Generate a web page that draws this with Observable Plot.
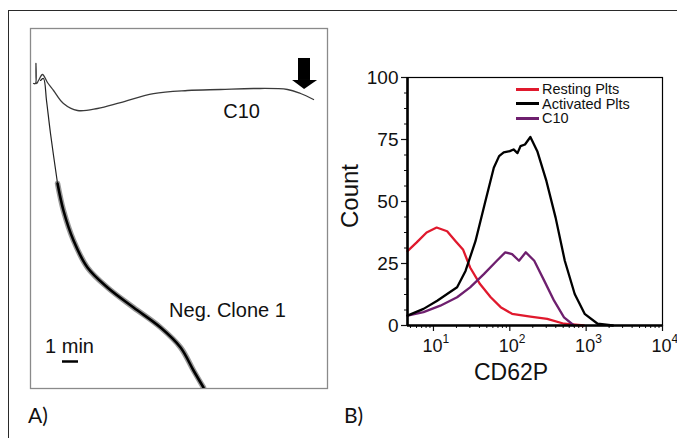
<!DOCTYPE html>
<html><head><meta charset="utf-8">
<script src="https://cdn.jsdelivr.net/npm/d3@7"></script>
<script src="https://cdn.jsdelivr.net/npm/@observablehq/plot@0.6"></script>
<style>
body{margin:0;background:#fff}
#wrap{position:relative;width:677px;height:438px;overflow:hidden;background:#fff;font-family:"Liberation Sans",Arial,sans-serif}
.abs{position:absolute}
.lbl{font-family:Lato,"Open Sans",sans-serif;font-size:21px;color:#111}
.leg{position:absolute;left:516px;top:82px;font-size:14.5px;line-height:14.5px;color:#111}
.leg div{display:flex;align-items:center;white-space:nowrap;height:14.5px}
.leg span.bar{display:inline-block;width:23px;height:3px;margin-right:3px}
</style></head>
<body>
<div id="wrap">
  <div class="abs" style="left:8px;top:10px;width:720px;height:520px;border:1.5px solid #2a2a2a"></div>
  <div id="a" class="abs" style="left:20px;top:18px"></div>
  <div id="b" class="abs" style="left:335px;top:60px"></div>
  <div id="leg" class="leg"></div>
  <div class="abs" style="left:350px;top:196px;width:0;height:0"><div style="position:absolute;transform:translate(-50%,-50%) rotate(-90deg);font-size:24px;white-space:nowrap;color:#111">Count</div></div>
  <div class="abs" style="left:511px;top:372px;width:0;height:0"><div style="position:absolute;transform:translate(-50%,-50%);font-size:23px;white-space:nowrap;color:#111">CD62P</div></div>
  <div class="abs lbl" style="left:28px;top:402px">A)</div>
  <div class="abs lbl" style="left:344px;top:402px">B)</div>
</div>
<script>
// ---- Panel A: aggregation traces (time in min, signal in arbitrary %)
const c10T = [0.19,0.31,0.34,0.38,0.5,0.75,1.06,1.44,2.06,2.94,4.19,5.63,7.69,9.81,11.88,13.94,16.06,16.88,17.69];
const c10V = [-0.28,-0.28,5.28,-0.28,0.56,2.22,0,-2.22,-5.83,-7.78,-7.22,-5.56,-3.06,-2.22,-1.94,-1.67,-1.94,-3.06,-4.72];
const negThinT = [0.63,0.81,1.0,1.25,1.69];
const negThinV = [0.56,1.11,-5,-14.17,-28.06];
const negT = [1.69,2.06,2.69,3.56,4.81,6.44,8.13,9.38,10.19,10.81];
const negV = [-28.06,-35.56,-43.89,-51.39,-56.94,-62.5,-68.06,-73.61,-80,-84.72];
const traceLabels = ["C10","Neg. Clone 1"];
const scaleBarLabel = "1 min";

// ---- Panel B: CD62P histograms
const restX = [4.57,6.03,8.13,11,15.1,19.5,24.5,30.2,40.7,56.2,75.9,107,186,309,513,933];
const restY = [30,33.5,37.5,39.5,38,34,30.5,23.4,16.7,11.4,7.4,4.7,3.6,2.7,0.7,0];
const actX = [4.57,7.41,11.2,15.1,20.4,26.3,35.5,46.8,61.7,72.4,83.2,100,112,126,138,158,186,229,302,398,525,708,955,1413,2239];
const actY = [4,6.7,10,12.7,15.4,22,34,48.9,63.6,68.3,69.8,70.3,71,69.5,72.3,73,76,70.3,58.2,43.5,26.1,12.7,4.7,0.7,0];
const c10X = [4.57,7.41,12.3,20.4,30.2,45.7,67.6,87.1,107,132,162,209,282,380,513,692];
const c10Y = [4,5.4,8,11.4,15.4,20.7,26.1,29.5,28.8,26.1,29.5,26.1,18.1,10,3.3,0];
const seriesNames = ["Resting Plts","Activated Plts","C10"];
const seriesColors = ["#e0192d","#000000","#6e1f6e"];
const yTicks = [0,25,50,75,100];
const yMinor = [6.25,12.5,18.75,31.25,37.5,43.75,56.25,62.5,68.75,81.25,87.5,93.75];
const xMajor = [10,100,1000,10000];
const xExp = ["1","2","3","4"];
const xMinor = [5,6,7,8,9,20,30,40,50,60,70,80,90,200,300,400,500,600,700,800,900,2000,3000,4000,5000,6000,7000,8000,9000];

const zip = (xs, ys) => xs.map((x,i)=>({x, y: ys[i]}));

const plotA = Plot.plot({
  width: 320, height: 382,
  marginLeft: 10, marginRight: 13, marginTop: 10, marginBottom: 12,
  x: {domain: [0, 18.5625], axis: null},
  y: {domain: [-85, 15], axis: null},
  style: {background: "transparent", fontFamily: "'Liberation Sans', Arial, sans-serif", overflow: "visible"},
  marks: [
    Plot.frame({stroke: "#8a8a8a", strokeWidth: 1.3}),
    Plot.line(zip(c10T, c10V), {x: "x", y: "y", stroke: "#3a3a3a", strokeWidth: 1.3, curve: "catmull-rom"}),
    Plot.line(zip(negThinT, negThinV), {x: "x", y: "y", stroke: "#222", strokeWidth: 1.2, curve: "catmull-rom"}),
    Plot.line(zip(negT, negV), {x: "x", y: "y", stroke: "#444", strokeWidth: 5.5, strokeOpacity: 0.55, curve: "catmull-rom", clip: true}),
    Plot.line(zip(negT, negV), {x: "x", y: "y", stroke: "#000", strokeWidth: 2.6, curve: "catmull-rom", clip: true}),
    // arrow
    Plot.rect([{x1: 16.75, x2: 17.5, y1: 0.56, y2: 6.67}], {x1: "x1", x2: "x2", y1: "y1", y2: "y2", fill: "#000"}),
    Plot.areaY([{x: 16.38, y1: 0.56, y2: 0.56}, {x: 17.13, y1: 0.56, y2: -1.94}, {x: 17.94, y1: 0.56, y2: 0.56}], {x: "x", y1: "y1", y2: "y2", fill: "#000"}),
    // labels
    Plot.text([{x: 13.19, y: -8.06, t: traceLabels[0]}, {x: 12.31, y: -63.3, t: traceLabels[1]}, {x: 2.44, y: -73.3, t: scaleBarLabel}],
      {x: "x", y: "y", text: "t", fontSize: 20, fill: "#111"}),
    Plot.ruleY([-77.5], {x1: 2, x2: 3, stroke: "#000", strokeWidth: 2.5})
  ]
});
document.getElementById("a").append(plotA);

const plotB = Plot.plot({
  width: 342, height: 330,
  marginLeft: 72, marginRight: 15, marginTop: 17, marginBottom: 65,
  x: {type: "log", domain: [4.57, 10000], axis: null},
  y: {domain: [0, 100], axis: null},
  style: {background: "transparent", fontFamily: "'Liberation Sans', Arial, sans-serif", overflow: "visible", color: "#111"},
  marks: [
    Plot.frame({stroke: "#000", strokeWidth: 1.2}),
    Plot.axisY(yMinor, {tickSize: 3, tickFormat: () => "", label: null, strokeWidth: 1}),
    Plot.axisY(yTicks, {tickSize: 6, fontSize: 19, tickPadding: 3, label: null, strokeWidth: 1.2}),
    Plot.axisX(xMinor, {tickSize: 3, tickFormat: () => "", label: null, strokeWidth: 1}),
    Plot.axisX(xMajor, {tickSize: 6, tickFormat: () => "", label: null, strokeWidth: 1.2}),
    Plot.text(xMajor, {x: d => d, frameAnchor: "bottom", dy: 21, dx: 9, textAnchor: "end", text: () => "10", fontSize: 18, lineAnchor: "middle"}),
    Plot.text(xMajor, {x: d => d, frameAnchor: "bottom", dy: 14, dx: 9, textAnchor: "start", text: (d, i) => xExp[i], fontSize: 12, lineAnchor: "middle"}),
    Plot.line(zip(restX, restY), {x: "x", y: "y", stroke: seriesColors[0], strokeWidth: 2.3}),
    Plot.line(zip(c10X, c10Y), {x: "x", y: "y", stroke: seriesColors[2], strokeWidth: 2.3}),
    Plot.line(zip(actX, actY), {x: "x", y: "y", stroke: seriesColors[1], strokeWidth: 2.3}),
    Plot.ruleX([4.57], {stroke: "#000", strokeWidth: 2.6}),
    Plot.ruleY([0], {stroke: "#000", strokeWidth: 2.6})
  ]
});
document.getElementById("b").append(plotB);

const leg = document.getElementById("leg");
seriesNames.forEach((n, i) => {
  const row = document.createElement("div");
  row.innerHTML = `<span class="bar" style="background:${seriesColors[i]}"></span><span>${n}</span>`;
  leg.append(row);
});
</script>
</body></html>
